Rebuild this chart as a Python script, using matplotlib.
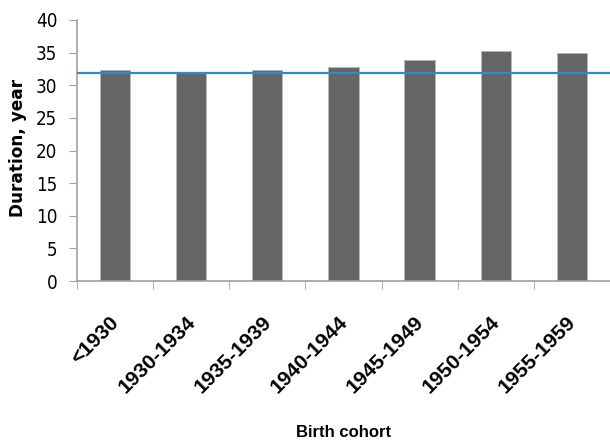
import matplotlib.pyplot as plt
import numpy as np

cohorts = ['<1930', '1930-1934', '1935-1939', '1940-1944', '1945-1949', '1950-1954', '1955-1959']
duration = [32.4, 32.1, 32.3, 32.8, 33.9, 35.2, 35.0]
reference_line = 31.8

sans = ['Liberation Sans', 'DejaVu Sans']

fig = plt.figure(figsize=(6.1, 4.44), dpi=100)
ax = fig.add_axes([0.126, 0.367, 0.874, 0.588])

x = np.arange(len(cohorts))
ax.bar(x, duration, width=0.4, color='#646567', edgecolor='#b8b8b8', linewidth=0.6, zorder=2)
ax.axhline(reference_line, color='#2b8fc3', linewidth=1.6, zorder=3)

ax.set_xlim(-0.5, len(cohorts) - 0.5)
ax.set_ylim(0, 40)
ax.set_yticks(range(0, 41, 5))
ax.set_xticks(x)
ax.set_xticklabels([])
ax.set_xticks(np.arange(-0.5, len(cohorts), 1.0), minor=True)
ax.tick_params(axis='x', which='major', length=0)
ax.tick_params(axis='x', which='minor', length=6, color='#a0a0a0', direction='out')
ax.tick_params(axis='y', length=6, color='#a0a0a0', direction='out', pad=8)

for lbl in ax.get_yticklabels():
    lbl.set_family('DejaVu Sans')
    lbl.set_stretch('condensed')
    lbl.set_fontsize(13.5)

for xi, name in zip(x, cohorts):
    ax.annotate(name, xy=(xi, 0), xycoords=('data', 'axes fraction'),
                xytext=(-4, -23), textcoords='offset points',
                rotation=45, ha='right', va='top', rotation_mode='anchor',
                fontsize=15, fontweight='bold', family=sans)

for side in ['top', 'right']:
    ax.spines[side].set_visible(False)
for side in ['left', 'bottom']:
    ax.spines[side].set_color('#a0a0a0')
    ax.spines[side].set_linewidth(1.2)

fig.text(0.03, 0.667, 'Duration, year', rotation=90, ha='center', va='center',
         fontsize=12.2, fontweight='heavy', family=['DejaVu Sans'])
fig.text(0.564, 0.025, 'Birth cohort', ha='center', va='center',
         fontsize=12, fontweight='bold', family=sans)

fig.savefig('out.png', dpi=100)
